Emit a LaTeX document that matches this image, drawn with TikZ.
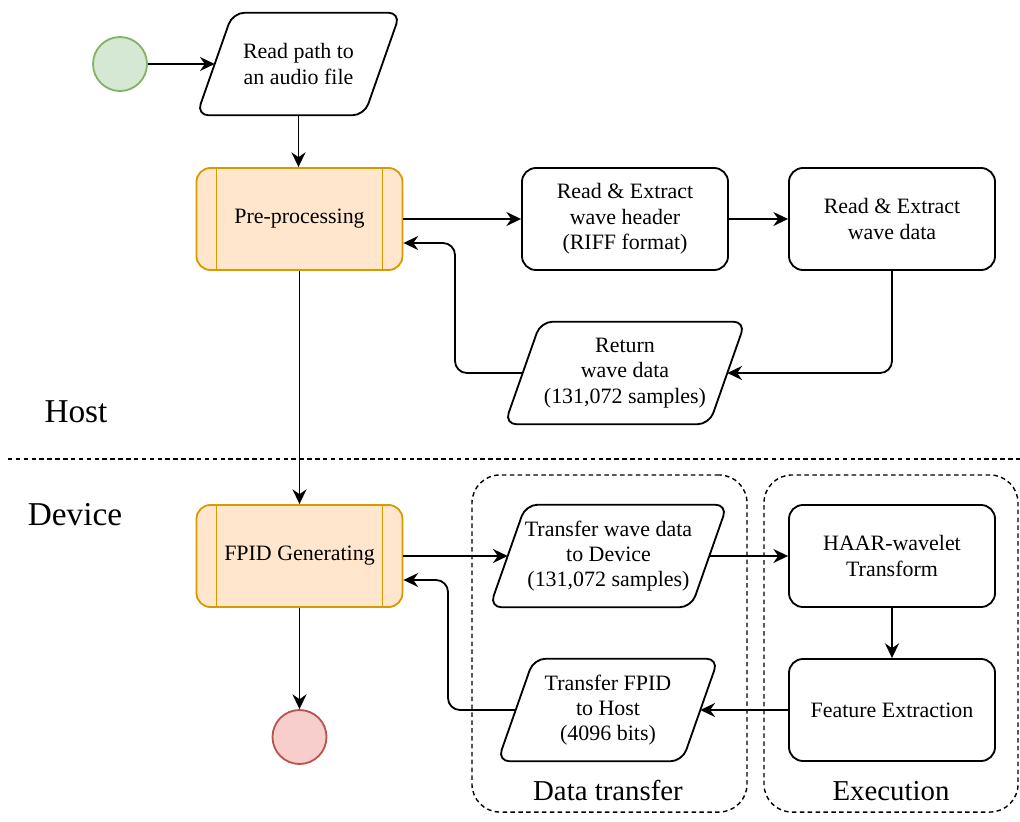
\documentclass[tikz,border=0pt]{standalone}
\usepackage{fontspec}
\setmainfont{Liberation Serif}
\usetikzlibrary{arrows.meta}

\definecolor{startfill}{HTML}{D5E8D4}
\definecolor{startline}{HTML}{82B366}
\definecolor{endfill}{HTML}{F8CECC}
\definecolor{endline}{HTML}{B85450}
\definecolor{subfill}{HTML}{FFE6CC}
\definecolor{subline}{HTML}{D79B00}

% slant of the input/output parallelograms
\newlength{\ioslant}
\setlength{\ioslant}{0.9cm}

\begin{document}
\begin{tikzpicture}[x=0.025cm, y=-0.025cm,
  txt/.style={font=\fontsize{15.6}{18}\selectfont, align=center},
  proc/.style={txt, draw, line width=1.3pt, rounded corners=0.35cm,
    minimum width=5.15cm, minimum height=2.55cm, inner sep=0pt},
  subproc/.style={proc, draw=subline, fill=subfill},
  io/.style={txt, minimum height=2.55cm, inner sep=0pt},
  ioshape/.style={draw, line width=1.3pt, rounded corners=0.3cm},
  terminal/.style={circle, line width=1.3pt, minimum size=1.35cm, inner sep=0pt},
  arr/.style={-{Stealth[length=10.5pt,width=10pt,inset=3.5pt]}, line width=1.3pt,
    rounded corners=0.3cm},
  dashline/.style={line width=1pt, dash pattern=on 3.2pt off 2.4pt},
  group/.style={draw, dashline, rounded corners=0.7cm,
    minimum width=6.875cm, minimum height=8.425cm, inner sep=0pt},
  grouplabel/.style={font=\fontsize{20.5}{24}\selectfont, anchor=base},
  zonelabel/.style={font=\fontsize{23.7}{28}\selectfont, anchor=base},
]
\useasboundingbox (0,0) rectangle (1020,822);

% dashed groups on the device side
\node[group] (gxfer) at (609.5,643.5) {};
\node[group, minimum width=6.35cm] (gexec) at (891,643.5) {};
\node[grouplabel] (lxfer) at (608,800) {Data transfer};
\node[grouplabel] (lexec) at (891,800) {Execution};

% host / device separation
\coordinate (sepl) at (8,459);
\coordinate (sepr) at (1020,459);
\draw[dashline] (sepl) -- (sepr);
\node[zonelabel] (host) at (76,422) {Host};
\node[zonelabel] (device) at (75,525) {Device};

% host side
\node[terminal, draw=startline, fill=startfill] (start) at (120,64) {};
\node[io, minimum width=5.075cm] (readp) at (298.5,64) {Read path to\\an audio file};
\node[subproc] (pre) at (299.5,219) {Pre-processing};
\node[proc] (hdr) at (625,219) {Read \& Extract\\wave header\\(RIFF format)};
\node[proc] (wdata) at (892,219) {Read \& Extract\\wave data};
\node[io, minimum width=6.0cm] (ret) at (625,373) {Return\\wave data\\(131,072 samples)};

% device side
\node[subproc] (fpid) at (299.5,556) {FPID Generating};
\node[io, minimum width=5.925cm] (xfer) at (608.5,556) {Transfer wave data\\to Device\\(131,072 samples)};
\node[proc] (haar) at (892,556) {HAAR-wavelet\\Transform};
\node[proc] (feat) at (892,710) {Feature Extraction};
\node[io, minimum width=5.5cm] (xfpid) at (608,710) {Transfer FPID\\to Host\\(4096 bits)};
\node[terminal, draw=endline, fill=endfill] (stop) at (299.5,737) {};

% parallelogram outlines of the input/output steps
\foreach \n in {readp,ret,xfer,xfpid}{
  \draw[ioshape] ([xshift=\ioslant]\n.north west) -- (\n.north east)
    -- ([xshift=-\ioslant]\n.south east) -- (\n.south west) -- cycle;
}

% side bars of the predefined-process boxes
\foreach \n in {pre,fpid}{
  \draw[subline, line width=1.3pt] ([xshift=0.525cm]\n.north west) -- ([xshift=0.525cm]\n.south west);
  \draw[subline, line width=1.3pt] ([xshift=-0.525cm]\n.north east) -- ([xshift=-0.525cm]\n.south east);
}

% connectors
\coordinate (k1) at (455,243);
\coordinate (k2) at (448,580);
\draw[arr] (start) -- ([xshift=0.5\ioslant]readp.west);
\draw[arr] (readp.south) -- (readp.south |- pre.north);
\draw[arr] (pre.east) -- (hdr.west);
\draw[arr] (hdr.east) -- (wdata.west);
\draw[arr] (wdata.south) |- ([xshift=-0.5\ioslant]ret.east);
\draw[arr] ([xshift=0.5\ioslant]ret.west) -| (k1) -- (pre.east |- k1);
\draw[arr] (pre.south) -- (fpid.north);
\draw[arr] (fpid.east) -- ([xshift=0.5\ioslant]xfer.west);
\draw[arr] ([xshift=-0.5\ioslant]xfer.east) -- (haar.west);
\draw[arr] (haar.south) -- (feat.north);
\draw[arr] (feat.west) -- ([xshift=-0.5\ioslant]xfpid.east);
\draw[arr] ([xshift=0.5\ioslant]xfpid.west) -| (k2) -- (fpid.east |- k2);
\draw[arr] (fpid.south) -- (stop.north);
\end{tikzpicture}
\end{document}
